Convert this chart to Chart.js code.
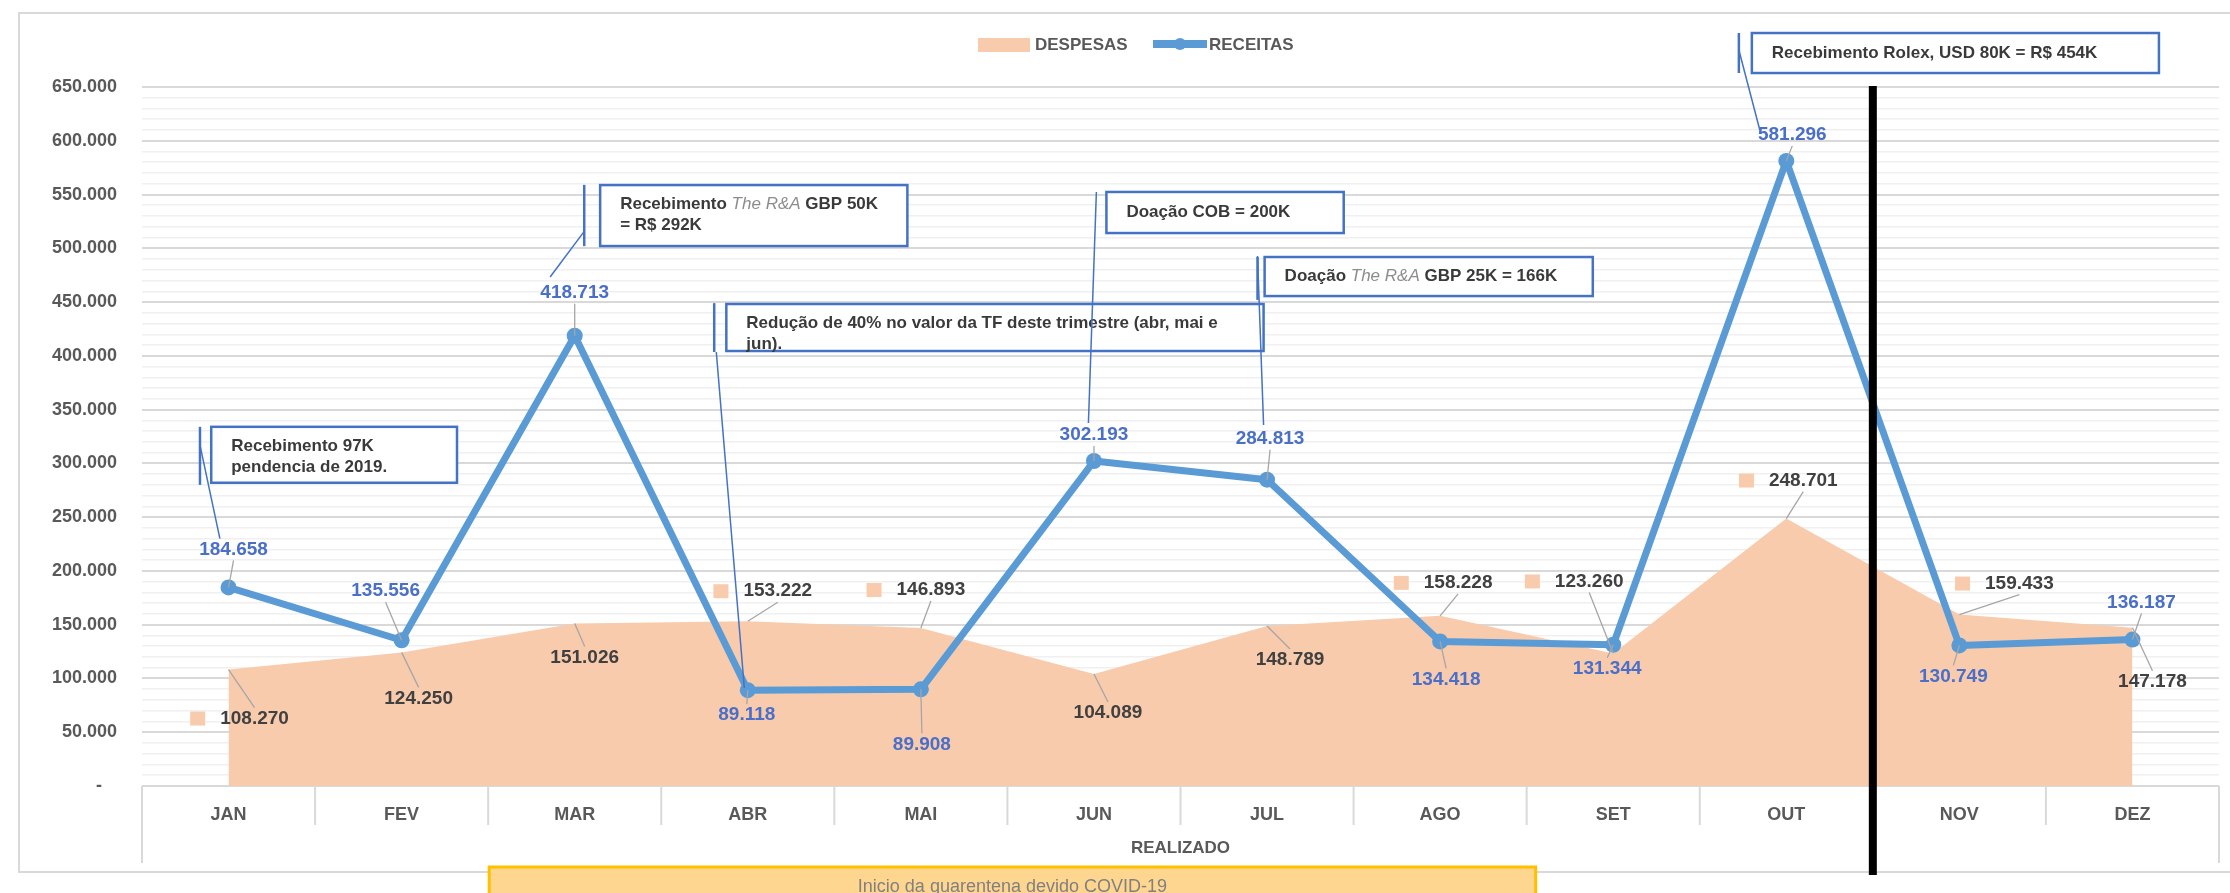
<!DOCTYPE html>
<html>
<head>
<meta charset="utf-8">
<script src="https://cdn.jsdelivr.net/npm/chart.js@4.4.1/dist/chart.umd.min.js"></script>
<style>
  html, body { margin: 0; padding: 0; background: #fff; }
  #wrap { width: 2230px; height: 893px; }
</style>
</head>
<body>
<div id="wrap"><canvas id="myChart" width="2230" height="893"></canvas></div>
<script>
// Chart values

const months = ["JAN", "FEV", "MAR", "ABR", "MAI", "JUN", "JUL", "AGO", "SET", "OUT", "NOV", "DEZ"];
const despesas = [108270, 124250, 151026, 153222, 146893, 104089, 148789, 158228, 123260, 248701, 159433, 147178];
const receitas = [184658, 135556, 418713, 89118, 89908, 302193, 284813, 134418, 131344, 581296, 130749, 136187];
const yMax = 650000;

// Where each data label sits relative to its point (pixels)

const recOffsets = [[5, -38], [-16, -49], [0, -43], [-1, 25], [1, 55], [0, -26], [3, -41], [6, 38], [-6, 24], [6, -26], [-6, 31], [9, -37]];
const despOffsets = [[26, 49], [17, 46], [10, 34], [30, -30], [10, -38], [14, 39], [23, 34], [18, -33], [-24, -72], [17, -38], [60, -31], [20, 54]];
const despKeys = [0, 3, 4, 7, 8, 9, 10];

// Callout boxes, placed in category / value units

const notes = [
  { x1: -0.10, x2: 1.32, top: 334000, bottom: 282000, bar: [-0.165, 334000, 280000],
    lead: [-0.165, 317000, -0.05, 230000],
    lines: [[["Recebimento 97K", 0]], [["pendencia de 2019.", 0]]] },
  { x1: 2.147, x2: 3.922, top: 558800, bottom: 502100, bar: [2.055, 559000, 502000],
    lead: [2.055, 515700, 1.858, 473300],
    lines: [[["Recebimento ", 0], ["The R&A", 1], [" GBP 50K", 0]], [["= R$ 292K", 0]]] },
  { x1: 2.876, x2: 5.98, top: 448200, bottom: 404500, bar: [2.806, 449000, 403600],
    lead: [2.818, 403600, 2.98, 91100],
    lines: [[["Redução de 40% no valor da TF deste trimestre (abr, mai e", 0]], [["jun).", 0]]] },
  { x1: 5.072, x2: 6.443, top: 552400, bottom: 514200, bar: null,
    lead: [5.014, 552400, 4.968, 337500],
    lines: [[["Doação COB = 200K", 0]]] },
  { x1: 5.986, x2: 7.882, top: 491900, bottom: 455600, bar: [5.945, 491900, 452000],
    lead: [5.945, 492800, 5.98, 335700],
    lines: [[["Doação ", 0], ["The R&A", 1], [" GBP 25K = 166K", 0]]] },
  { x1: 8.801, x2: 11.153, top: 700200, bottom: 663000, bar: [8.726, 700200, 663000],
    lead: [8.726, 684400, 8.847, 610000],
    lines: [[["Recebimento Rolex, USD 80K = R$ 454K", 0]]] },
];

const FONT = '"Liberation Sans", Arial, sans-serif';
const GREY = "#595959";

function fmt(v) {
  return String(v).replace(/\B(?=(\d{3})+(?!\d))/g, ".");
}

function line(ctx, x1, y1, x2, y2) {
  ctx.beginPath();
  ctx.moveTo(x1, y1);
  ctx.lineTo(x2, y2);
  ctx.stroke();
}

// Draw a value label, its leader line and (optionally) a legend key

function drawLabel(ctx, text, cx, cy, color, pt, key) {
  ctx.font = "bold 19px " + FONT;
  const w = ctx.measureText(text).width;
  const h = 18;
  let ax = cx, ay;
  if (pt.y > cy + h / 2) ay = cy + h / 2 + 2;
  else if (pt.y < cy - h / 2) ay = cy - h / 2 - 2;
  else { ay = pt.y; ax = pt.x < cx ? cx - w / 2 - 2 : cx + w / 2 + 2; }
  if (Math.hypot(pt.x - ax, pt.y - ay) > 8) {
    ctx.strokeStyle = "#a6a6a6";
    ctx.lineWidth = 1.3;
    line(ctx, ax, ay, pt.x, pt.y);
  }
  if (key) {
    ctx.fillStyle = "#F8CBAD";
    ctx.fillRect(cx - w / 2 - 30, cy - 7, 15, 14);
  }
  ctx.fillStyle = color;
  ctx.textAlign = "center";
  ctx.textBaseline = "middle";
  ctx.fillText(text, cx, cy);
}

const extras = {
  id: "extras",
  beforeDraw(chart) {
    const ctx = chart.ctx;
    ctx.save();
    ctx.fillStyle = "#fff";
    ctx.fillRect(0, 0, chart.width, chart.height);
    ctx.strokeStyle = "#d9d9d9";
    ctx.lineWidth = 2;
    ctx.strokeRect(19, 13, chart.width, 859);
    ctx.restore();
  },
  afterDatasetsDraw(chart) {
    const ctx = chart.ctx;
    const xs = chart.scales.x, ys = chart.scales.y;
    const area = chart.chartArea;
    const px = (c) => xs.getPixelForValue(c);
    const py = (v) => ys.getPixelForValue(v);
    ctx.save();

    // category box below the axis
    ctx.strokeStyle = "#d9d9d9";
    ctx.lineWidth = 2;
    for (let i = 0; i <= months.length; i++) {
      const x = px(i - 0.5);
      const long = i === 0 || i === months.length;
      line(ctx, x, area.bottom, x, area.bottom + (long ? 77 : 39));
    }
    ctx.fillStyle = GREY;
    ctx.font = "bold 17px " + FONT;
    ctx.textAlign = "center";
    ctx.textBaseline = "middle";
    ctx.fillText("REALIZADO", (area.left + area.right) / 2, area.bottom + 62);

    // data labels
    const recMeta = chart.getDatasetMeta(0);
    const despMeta = chart.getDatasetMeta(1);
    despesas.forEach((v, i) => {
      const pt = despMeta.data[i];
      drawLabel(ctx, fmt(v), pt.x + despOffsets[i][0], pt.y + despOffsets[i][1], "#404040", pt, despKeys.includes(i));
    });
    receitas.forEach((v, i) => {
      const pt = recMeta.data[i];
      drawLabel(ctx, fmt(v), pt.x + recOffsets[i][0], pt.y + recOffsets[i][1], "#4a6fc9", pt, false);
    });

    // callouts
    notes.forEach((n) => {
      const x1 = px(n.x1), x2 = px(n.x2), y1 = py(n.top), y2 = py(n.bottom);
      ctx.fillStyle = "#fff";
      ctx.fillRect(x1, y1, x2 - x1, y2 - y1);
      ctx.strokeStyle = "#4472C4";
      ctx.lineWidth = 2.5;
      ctx.strokeRect(x1, y1, x2 - x1, y2 - y1);
      if (n.bar) line(ctx, px(n.bar[0]), py(n.bar[1]), px(n.bar[0]), py(n.bar[2]));
      ctx.lineWidth = 1.5;
      line(ctx, px(n.lead[0]), py(n.lead[1]), px(n.lead[2]), py(n.lead[3]));

      ctx.textAlign = "left";
      ctx.textBaseline = "middle";
      const first = n.lines.length > 1 ? y1 + 19 : (y1 + y2) / 2;
      n.lines.forEach((segs, k) => {
        let x = x1 + 20;
        const y = first + k * 21;
        segs.forEach(([t, it]) => {
          ctx.font = (it ? "italic 17px " : "bold 17px ") + FONT;
          ctx.fillStyle = it ? "#8c8c8c" : "#3a3a3a";
          ctx.fillText(t, x, y);
          x += ctx.measureText(t).width;
        });
      });
    });

    // black divider between OUT and NOV
    ctx.strokeStyle = "#000";
    ctx.lineWidth = 8;
    line(ctx, px(9.5), area.top - 1, px(9.5), area.bottom + 89);

    // legend
    ctx.fillStyle = "#F8CBAD";
    ctx.fillRect(978, 38, 52, 14);
    ctx.fillStyle = GREY;
    ctx.font = "bold 17px " + FONT;
    ctx.textAlign = "left";
    ctx.textBaseline = "middle";
    ctx.fillText("DESPESAS", 1035, 45);
    ctx.strokeStyle = "#5B9BD5";
    ctx.lineWidth = 8;
    line(ctx, 1153, 44, 1207, 44);
    ctx.fillStyle = "#5B9BD5";
    ctx.beginPath();
    ctx.arc(1180, 44, 6, 0, Math.PI * 2);
    ctx.fill();
    ctx.fillStyle = GREY;
    ctx.fillText("RECEITAS", 1209, 45);

    // quarantine note at the bottom
    const bx1 = px(1.506), bx2 = px(7.552), by = area.bottom + 81;
    ctx.fillStyle = "#FFD68F";
    ctx.fillRect(bx1, by, bx2 - bx1, 40);
    ctx.strokeStyle = "#FFC000";
    ctx.lineWidth = 3;
    ctx.strokeRect(bx1, by, bx2 - bx1, 40);
    ctx.fillStyle = "#808080";
    ctx.font = "18px " + FONT;
    ctx.textAlign = "center";
    ctx.fillText("Inicio da quarentena devido COVID-19", (bx1 + bx2) / 2, by + 20);

    ctx.restore();
  },
};

new Chart("myChart", {
  type: "line",
  data: {
    labels: months,
    datasets: [
      {
        label: "RECEITAS",
        data: receitas,
        order: 1,
        borderColor: "#5B9BD5",
        backgroundColor: "#5B9BD5",
        borderWidth: 7,
        borderJoinStyle: "round",
        pointRadius: 8,
        pointBorderWidth: 0,
        pointBackgroundColor: "#5B9BD5",
        tension: 0,
        fill: false,
      },
      {
        label: "DESPESAS",
        data: despesas,
        order: 2,
        borderWidth: 0,
        borderColor: "rgba(0,0,0,0)",
        backgroundColor: "#F8CBAD",
        pointRadius: 0,
        tension: 0,
        fill: "origin",
      },
    ],
  },
  options: {
    responsive: false,
    animation: false,
    layout: { padding: { left: 0, top: 87, right: 11, bottom: 0 } },
    plugins: {
      legend: { display: false },
      title: { display: false },
      tooltip: { enabled: false },
    },
    scales: {
      x: {
        offset: true,
        grid: { display: false, drawTicks: false },
        border: { display: false },
        ticks: {
          color: GREY,
          padding: 18,
          font: { size: 18, weight: "bold", family: FONT },
          maxRotation: 0,
        },
        afterFit(scale) { scale.height = 107; },
      },
      y: {
        min: 0,
        max: yMax,
        border: { display: false },
        grid: {
          drawTicks: false,
          color: (c) => (c.tick.value % 50000 === 0 ? "#d9d9d9" : "#f0f0f0"),
          lineWidth: (c) => (c.tick.value % 50000 === 0 ? 2 : 1.6),
        },
        ticks: {
          stepSize: 10000,
          maxTicksLimit: 100,
          autoSkip: false,
          padding: 25,
          color: GREY,
          font: { size: 18, weight: "bold", family: FONT },
          callback: (v) => (v % 50000 === 0 ? (v === 0 ? "-   " : fmt(v)) : ""),
        },
        afterFit(scale) { scale.width = 142; },
      },
    },
  },
  plugins: [extras],
});
</script>
</body>
</html>
